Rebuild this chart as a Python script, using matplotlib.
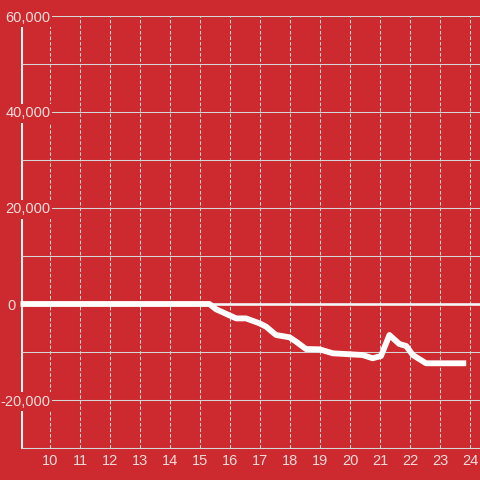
import matplotlib
matplotlib.use("Agg")
import matplotlib.pyplot as plt

################################################################################

hours = [9, 15.3, 15.52, 16.19, 16.52, 16.97, 17.19, 17.52, 17.97, 18.19, 18.52,
         18.97, 19.41, 20.41, 20.74, 21.02, 21.3, 21.63, 21.86, 22.08, 22.52, 23.86]
values = [0, 0, -1100, -3000, -3000, -4030, -4730, -6460, -6940, -7850, -9380,
          -9440, -10270, -10630, -11310, -10830, -6460, -8330, -8750, -10630, -12350, -12350]
x_ticks = list(range(10, 25))
y_ticks = [-20000, 0, 20000, 40000, 60000]
y_grid = list(range(-30000, 60001, 10000))

bg = "#cc2a2f"
txt = "#f3dcdc"
grid = "#d6d6d6"

plt.rcParams["font.family"] = ["Liberation Sans", "DejaVu Sans"]

f = plt.figure(figsize=(4.8, 4.8), dpi=100, facecolor=bg)
ax = f.add_axes([20.5 / 480, 32 / 480, 1 - 20.5 / 480, 432 / 480])
ax.set_facecolor(bg)
ax.set_xlim(9, 24.32)
ax.set_ylim(-30000, 60000)

# grid: solid horizontals every 10k, dotted verticals every hour
ax.set_yticks(y_grid, minor=True)
ax.grid(True, axis="y", which="minor", color=grid, lw=0.75, ls="-")
ax.grid(True, axis="y", which="major", color=grid, lw=0.75, ls="-")
ax.set_xticks(x_ticks)
ax.grid(True, axis="x", which="major", color=grid, lw=0.75, ls=(0, (3.4, 1.9)))

ax.set_yticks(y_ticks)
ax.set_yticklabels(["{:,}".format(v) for v in y_ticks])
ax.tick_params(axis="y", which="both", length=0, pad=-21.5, labelsize=10.5, labelcolor=txt)
ax.tick_params(axis="x", which="both", length=0, pad=4, labelsize=10.5, labelcolor=txt)
for lab in ax.get_yticklabels():
    lab.set_bbox(dict(facecolor=bg, edgecolor="none", pad=1.5))
# the zero label sits left of the axis line
ax.yaxis.get_major_ticks()[y_ticks.index(0)].set_pad(3.8)

for s in ["top", "right", "left"]:
    ax.spines[s].set_visible(False)
ax.spines["bottom"].set_color(grid)
ax.spines["bottom"].set_linewidth(0.75)

ax.xaxis.set_zorder(2)
ax.yaxis.set_zorder(2)
ax.axvline(9, color="#f5f5f5", lw=2.2, zorder=1.5)
ax.axhline(0, color="#f5f5f5", lw=1.9, zorder=2.2)
ax.plot(hours, values, color="white", lw=4.2, solid_joinstyle="round",
        solid_capstyle="butt", zorder=3, clip_on=False)

plt.savefig("out.png", dpi=100, facecolor=bg)
